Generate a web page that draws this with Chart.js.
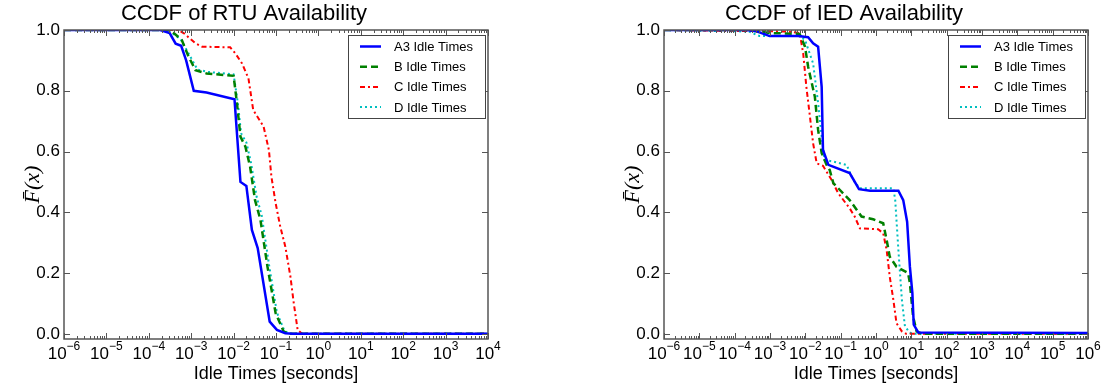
<!DOCTYPE html>
<html>
<head>
<meta charset="utf-8">
<script src="https://cdn.jsdelivr.net/npm/chart.js@4.4.0/dist/chart.umd.min.js"></script>
<style>
  html, body { margin: 0; padding: 0; background: #fff; }
  #wrap { position: relative; width: 1103px; height: 387px; overflow: hidden; }
  canvas { position: absolute; top: 0; }
</style>
</head>
<body>
<div id="wrap">
  <canvas id="rtuChart" width="552" height="387" style="left:0"></canvas>
  <canvas id="iedChart" width="552" height="387" style="left:600px"></canvas>
</div>
<script>
// series names
const seriesLabels = ['A3 Idle Times', 'B Idle Times', 'C Idle Times', 'D Idle Times'];

// tick labels
const yTickValues = [0.0, 0.2, 0.4, 0.6, 0.8, 1.0];
const rtuExponents = [-6, -5, -4, -3, -2, -1, 0, 1, 2, 3, 4];
const iedExponents = [-6, -5, -4, -3, -2, -1, 0, 1, 2, 3, 4, 5, 6];

// CCDF of RTU availability (x in seconds, y = F-bar)
const rtuA3X = [1e-6, 1.86e-4, 3.1e-4, 4.3e-4, 5.8e-4, 7.6e-4, 1.15e-3, 2.3e-3, 0.0105, 0.0145, 0.020, 0.027, 0.037, 0.071, 0.105, 0.166, 0.25, 1e4];
const rtuA3Y = [1.0, 1.0, 0.99, 0.955, 0.948, 0.90, 0.80, 0.794, 0.772, 0.50, 0.487, 0.342, 0.282, 0.04, 0.013, 0.002, 0.0, 0.0];
const rtuBX = [1e-6, 3.2e-4, 6.0e-4, 8.7e-4, 1.26e-3, 2.3e-3, 0.010, 0.012, 0.0145, 0.019, 0.0245, 0.032, 0.043, 0.063, 0.098, 0.151, 0.2, 1e4];
const rtuBY = [1.0, 1.0, 0.967, 0.912, 0.868, 0.857, 0.849, 0.759, 0.649, 0.616, 0.55, 0.44, 0.375, 0.221, 0.068, 0.008, 0.0, 0.0];
const rtuCX = [1e-6, 5.0e-4, 6.6e-4, 1.26e-3, 1.8e-3, 8.3e-3, 0.011, 0.0158, 0.0224, 0.029, 0.051, 0.068, 0.078, 0.098, 0.126, 0.166, 0.219, 0.263, 0.324, 0.41, 1e4];
const rtuCY = [1.0, 1.0, 0.99, 0.956, 0.945, 0.943, 0.923, 0.89, 0.841, 0.737, 0.682, 0.605, 0.517, 0.43, 0.353, 0.287, 0.188, 0.10, 0.013, 0.0, 0.0];
const rtuDX = [1e-6, 2.8e-4, 5.6e-4, 8.9e-4, 1.4e-3, 2.5e-3, 0.010, 0.0126, 0.015, 0.020, 0.026, 0.035, 0.046, 0.068, 0.105, 0.158, 0.21, 1e4];
const rtuDY = [1.0, 1.0, 0.97, 0.92, 0.87, 0.862, 0.854, 0.76, 0.66, 0.63, 0.56, 0.45, 0.39, 0.23, 0.07, 0.01, 0.0, 0.0];

// CCDF of IED availability
const iedA3X = [1e-6, 2.1e-4, 4.2e-4, 9.8e-4, 6.3e-3, 0.012, 0.0166, 0.023, 0.029, 0.0316, 0.045, 0.18, 0.33, 0.68, 4.3, 5.9, 7.6, 9.1, 10.7, 11.7, 15.8, 1e6];
const iedA3Y = [1.0, 1.0, 0.996, 0.98, 0.98, 0.976, 0.956, 0.945, 0.813, 0.605, 0.556, 0.529, 0.476, 0.471, 0.471, 0.44, 0.369, 0.221, 0.134, 0.03, 0.004, 0.003];
const iedBX = [1e-6, 2.5e-4, 1e-3, 6.9e-3, 9.8e-3, 0.012, 0.0186, 0.023, 0.029, 0.040, 0.049, 0.062, 0.18, 0.39, 0.83, 1.6, 2.0, 2.45, 3.8, 8.1, 9.1, 11.2, 14.1, 20, 1e6];
const iedBY = [1.0, 1.0, 0.99, 0.987, 0.945, 0.879, 0.78, 0.671, 0.595, 0.556, 0.539, 0.496, 0.44, 0.386, 0.377, 0.364, 0.309, 0.254, 0.221, 0.20, 0.167, 0.057, 0.008, 0.0, 0.0];
const iedCX = [1e-6, 3.2e-3, 6.9e-3, 8.7e-3, 0.0107, 0.0135, 0.0166, 0.021, 0.0316, 0.055, 0.085, 0.18, 0.25, 0.35, 1.15, 1.6, 2.0, 2.45, 3.1, 3.8, 5.4, 7.1, 1e6];
const iedCY = [1.0, 0.995, 0.99, 0.923, 0.813, 0.715, 0.627, 0.561, 0.553, 0.507, 0.463, 0.413, 0.386, 0.347, 0.344, 0.331, 0.276, 0.188, 0.112, 0.035, 0.008, 0.0, 0.0];
const iedDX = [1e-6, 2.5e-4, 5.1e-4, 6.9e-3, 9.8e-3, 0.0166, 0.023, 0.029, 0.035, 0.062, 0.148, 0.224, 0.35, 3.1, 3.5, 4.3, 5.4, 6.6, 9.1, 12.6, 1e6];
const iedDY = [1.0, 0.995, 0.98, 0.98, 0.967, 0.89, 0.759, 0.649, 0.572, 0.567, 0.556, 0.507, 0.479, 0.479, 0.44, 0.276, 0.112, 0.024, 0.004, 0.0, 0.0];

const seriesStyles = [
  { color: '#0000ff', width: 2.5, dash: [] },
  { color: '#008000', width: 2.5, dash: [7, 4] },
  { color: '#ff0000', width: 2, dash: [5, 3, 2, 3] },
  { color: '#00bfbf', width: 2, dash: [2, 3] }
];

const FONT = '"Liberation Sans", Arial, sans-serif';

function toPoints(xs, ys) {
  return xs.map((x, i) => ({ x: x, y: ys[i] }));
}

function makeDatasets(pairs) {
  return pairs.map((p, i) => ({
    label: seriesLabels[i],
    data: toPoints(p[0], p[1]),
    borderColor: seriesStyles[i].color,
    borderWidth: seriesStyles[i].width,
    borderDash: seriesStyles[i].dash,
    pointRadius: 0,
    tension: 0,
    fill: false
  }));
}

// matplotlib-like box: frame, inward ticks, 10^n labels, legend inside
const boxPlugin = {
  id: 'boxPlugin',
  afterDatasetsDraw(chart, args, opts) {
    const { ctx, chartArea: a, scales: { x, y } } = chart;
    const exps = opts.exps;
    ctx.save();
    ctx.strokeStyle = '#555';
    ctx.lineWidth = 1;
    ctx.beginPath();
    exps.forEach((e, i) => {
      const v = Math.pow(10, e);
      const px = Math.round(x.getPixelForValue(v)) + 0.5;
      ctx.moveTo(px, a.bottom); ctx.lineTo(px, a.bottom - 6);
      ctx.moveTo(px, a.top); ctx.lineTo(px, a.top + 6);
      if (i < exps.length - 1) {
        for (let m = 2; m < 10; m++) {
          const mx = Math.round(x.getPixelForValue(m * v)) + 0.5;
          ctx.moveTo(mx, a.bottom); ctx.lineTo(mx, a.bottom - 3);
          ctx.moveTo(mx, a.top); ctx.lineTo(mx, a.top + 3);
        }
      }
    });
    yTickValues.forEach(v => {
      const py = Math.round(y.getPixelForValue(v)) + 0.5;
      ctx.moveTo(a.left, py); ctx.lineTo(a.left + 6, py);
      ctx.moveTo(a.right, py); ctx.lineTo(a.right - 6, py);
    });
    ctx.stroke();
    ctx.lineWidth = 1.5;
    ctx.strokeRect(a.left, a.top, a.width, a.height);

    // x tick labels as 10 with superscript exponent
    ctx.fillStyle = '#000';
    ctx.textBaseline = 'alphabetic';
    ctx.textAlign = 'left';
    exps.forEach(e => {
      const px = x.getPixelForValue(Math.pow(10, e));
      const sup = String(e).replace('-', '\u2212');
      ctx.font = '17px ' + FONT;
      const w1 = ctx.measureText('10').width;
      ctx.font = '12px ' + FONT;
      const w2 = ctx.measureText(sup).width;
      const sx = px - (w1 + w2) / 2;
      ctx.font = '17px ' + FONT;
      ctx.fillText('10', sx, a.bottom + 20);
      ctx.font = '12px ' + FONT;
      ctx.fillText(sup, sx + w1, a.bottom + 11);
    });

    // legend
    const bw = 137, bh = 83;
    const bx = a.right - 3 - bw, by = a.top + 5;
    ctx.fillStyle = '#fff';
    ctx.fillRect(bx, by, bw, bh);
    ctx.strokeStyle = '#444';
    ctx.lineWidth = 1;
    ctx.strokeRect(bx + 0.5, by + 0.5, bw, bh);
    chart.data.datasets.forEach((ds, i) => {
      const ly = by + 11.5 + i * 20.2;
      ctx.beginPath();
      ctx.strokeStyle = ds.borderColor;
      ctx.lineWidth = ds.borderWidth;
      ctx.setLineDash(ds.borderDash);
      ctx.moveTo(bx + 12, ly);
      ctx.lineTo(bx + 33, ly);
      ctx.stroke();
      ctx.setLineDash([]);
      ctx.fillStyle = '#000';
      ctx.font = '13px ' + FONT;
      ctx.textBaseline = 'middle';
      ctx.fillText(ds.label, bx + 46, ly + 1);
    });
    ctx.restore();
  }
};

function makeChart(id, title, pairs, exps) {
  new Chart(document.getElementById(id), {
    type: 'line',
    data: { datasets: makeDatasets(pairs) },
    plugins: [boxPlugin],
    options: {
      responsive: false,
      animation: false,
      devicePixelRatio: 1,
      layout: { padding: { left: 0, right: 64, top: 0, bottom: 0 } },
      plugins: {
        legend: { display: false },
        tooltip: { enabled: false },
        title: {
          display: true,
          text: title,
          color: '#000',
          font: { family: FONT, size: 22, weight: 'normal', lineHeight: 1.15 },
          padding: { top: 1, bottom: 3.7 }
        },
        boxPlugin: { exps: exps }
      },
      scales: {
        x: {
          type: 'logarithmic',
          min: Math.pow(10, exps[0]),
          max: Math.pow(10, exps[exps.length - 1]),
          grid: { display: false },
          border: { display: false },
          ticks: { display: false },
          title: {
            display: true,
            text: 'Idle Times [seconds]',
            color: '#000',
            font: { family: FONT, size: 18, lineHeight: 1.2 },
            padding: { top: 0, bottom: 2 }
          },
          afterFit: s => { s.height = 48; }
        },
        y: {
          min: -0.017,
          max: 1.0,
          grid: { display: false, drawTicks: false },
          border: { display: false },
          afterBuildTicks: s => { s.ticks = yTickValues.map(v => ({ value: v })); },
          ticks: {
            color: '#000',
            padding: 4,
            font: { family: FONT, size: 17 },
            callback: v => v.toFixed(1)
          },
          title: {
            display: true,
            text: 'F\u0304(x)',
            color: '#000',
            font: { family: '"Liberation Serif", serif', size: 22, style: 'italic', lineHeight: 1.2 },
            padding: { top: 20, bottom: 0 }
          },
          afterFit: s => { s.width = 64; }
        }
      }
    }
  });
}

makeChart('rtuChart', 'CCDF of RTU Availability',
  [[rtuA3X, rtuA3Y], [rtuBX, rtuBY], [rtuCX, rtuCY], [rtuDX, rtuDY]], rtuExponents);
makeChart('iedChart', 'CCDF of IED Availability',
  [[iedA3X, iedA3Y], [iedBX, iedBY], [iedCX, iedCY], [iedDX, iedDY]], iedExponents);
</script>
</body>
</html>
